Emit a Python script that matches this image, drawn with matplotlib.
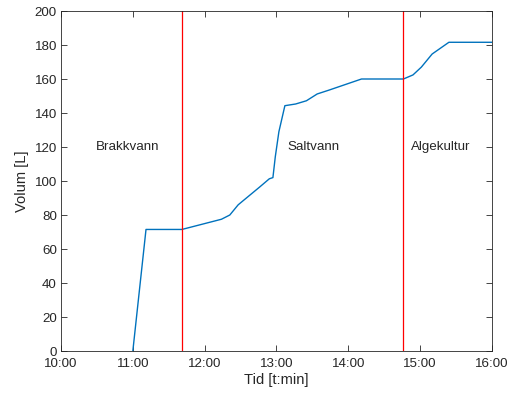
import matplotlib
matplotlib.use("Agg")
import matplotlib.pyplot as plt
from matplotlib.ticker import MultipleLocator

plt.rcParams['font.family'] = ['Liberation Sans', 'DejaVu Sans']

# Data
times = ["11:00", "11:11", "11:41", "12:14", "12:21", "12:28", "12:46", "12:54", "12:57",
         "12:59", "13:02", "13:07", "13:16", "13:25", "13:34", "13:44", "14:11", "14:46",
         "14:54", "15:01", "15:10", "15:24", "16:00"]
volume = [0, 71.5, 71.5, 77.5, 80, 86, 96.5, 101.3, 102, 114.3, 129, 144.3, 145.3, 147.2,
          151.2, 153.5, 160, 160, 162.4, 167, 174.7, 181.6, 181.6]
phase_lines = ["11:41", "14:46"]
phase_labels = ["Brakkvann", "Saltvann", "Algekultur"]
phase_label_times = ["10:56", "13:31", "15:17"]
phase_label_y = 120
xtick_labels = ["10:00", "11:00", "12:00", "13:00", "14:00", "15:00", "16:00"]


def to_min(s):
    h, m = s.split(":")
    return int(h) * 60 + int(m)


x = [to_min(t) for t in times]

fig = plt.figure(figsize=(5.13, 3.99), dpi=100)
ax = fig.add_axes([61 / 513, 1 - 351 / 399, (492 - 61) / 513, (351 - 11) / 399])

ax.plot(x, volume, color='#0072BD', lw=1.0)
for t in phase_lines:
    ax.axvline(to_min(t), color='#FF0000', lw=0.9)
for lab, t in zip(phase_labels, phase_label_times):
    ax.text(to_min(t), phase_label_y, lab, ha='center', va='center', fontsize=9.6, color='#262626')

xt = [to_min(t) for t in xtick_labels]
ax.set_xlim(xt[0], xt[-1])
ax.set_ylim(0, 200)
ax.set_xticks(xt)
ax.set_xticklabels(xtick_labels)
ax.yaxis.set_major_locator(MultipleLocator(20))

edge = '#262626'
for sp in ax.spines.values():
    sp.set_color(edge)
    sp.set_linewidth(0.6)
ax.tick_params(direction='in', top=True, right=True, length=4, width=0.6,
               colors=edge, labelsize=9.6, labelcolor=edge)
ax.tick_params(axis='x', pad=5)
ax.tick_params(axis='y', pad=3)
ax.set_xlabel("Tid [t:min]", fontsize=10.6, color=edge, labelpad=2)
ax.set_ylabel("Volum [L]", fontsize=10.6, color=edge, labelpad=4)

fig.savefig("out.png", dpi=100)
